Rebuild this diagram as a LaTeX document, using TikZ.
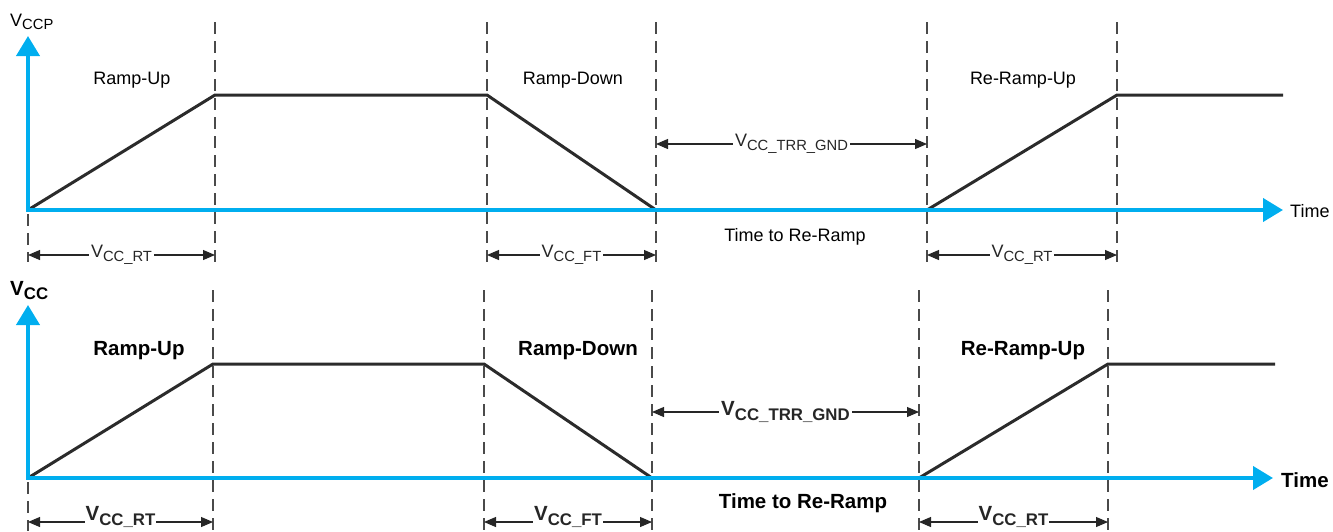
\documentclass[tikz,border=0pt]{standalone}
\usepackage{fontspec}
\setmainfont{Liberation Sans}
\usetikzlibrary{arrows.meta}
\definecolor{axisblue}{HTML}{00AEEF}
\definecolor{wavegray}{HTML}{2B2B2B}
\definecolor{guidegray}{HTML}{4A4A4A}
\newcommand{\lowtext}[1]{\raisebox{-0.4ex}{\scalebox{0.82}{#1}}}
\tikzset{
  axisline/.style={axisblue, line width=4pt, line cap=rect, -{Triangle[length=20pt,width=23pt]}},
  wave/.style={wavegray, line width=3pt, line join=miter},
  guide/.style={guidegray, line width=1.2pt, dash pattern=on 12pt off 7pt},
  dimarrow/.style={black!85, line width=1.1pt, {Triangle[length=12pt,width=10pt]}-{Triangle[length=12pt,width=10pt]}},
  plainlabel/.style={font=\fontsize{18}{21}\selectfont, inner sep=1pt},
  boldlabel/.style={font=\fontsize{20.5}{23}\selectfont\bfseries, inner sep=1pt},
  dimlabel/.style={fill=white, inner sep=2pt},
  edgelabel/.style={dimlabel, inner sep=1pt, yshift=5pt}
}

\begin{document}
\begin{tikzpicture}[x=1pt, y=-1pt]
  \useasboundingbox (0,0) rectangle (1333,531);

  % upper panel: V_CCP
  \foreach \x in {215,487,656,927,1117}
    \draw[guide] (\x,22) -- (\x,262);
  \draw[guide] (28,214) -- (28,262);

  \coordinate (o1) at (28,210);
  \coordinate (p1) at (215,95);
  \coordinate (p2) at (487,95);
  \coordinate (p3) at (656,210);
  \coordinate (p4) at (927,210);
  \coordinate (p5) at (1117,95);
  \coordinate (p6) at (1283,95);
  \coordinate (ytip1) at (28,36);
  \coordinate (xtip1) at (1283,210);

  \draw[wave] (o1) -- (p1) -- (p2) -- (p3) -- (p4) -- (p5) -- (p6);
  \draw[axisline] (o1) -- (ytip1);
  \draw[axisline] (o1) -- (xtip1);

  \node[plainlabel, anchor=base west] (vccp) at (9,26) {V\lowtext{CCP}};
  \node[plainlabel, anchor=west] (time1) at (1289,211) {Time};
  \node[plainlabel] (up1) at (132,80) {Ramp-Up};
  \node[plainlabel] (down1) at (573,80) {Ramp-Down};
  \node[plainlabel] (reup1) at (1023,80) {Re-Ramp-Up};
  \node[plainlabel] (rr1) at (795,237) {Time to Re-Ramp};

  \coordinate (g1a) at (656,144);
  \coordinate (g1b) at (927,144);
  \draw[dimarrow] (g1a) -- node[plainlabel, dimlabel] {V\lowtext{CC\_TRR\_GND}} (g1b);
  \coordinate (r1a) at (28,255);
  \coordinate (r1b) at (215,255);
  \draw[dimarrow] (r1a) -- node[plainlabel, dimlabel] {V\lowtext{CC\_RT}} (r1b);
  \coordinate (f1a) at (487,255);
  \coordinate (f1b) at (656,255);
  \draw[dimarrow] (f1a) -- node[plainlabel, dimlabel] {V\lowtext{CC\_FT}} (f1b);
  \coordinate (s1a) at (927,255);
  \coordinate (s1b) at (1117,255);
  \draw[dimarrow] (s1a) -- node[plainlabel, dimlabel] {V\lowtext{CC\_RT}} (s1b);

  % lower panel: V_CC
  \foreach \x in {213,484,652,919,1108}
    \draw[guide] (\x,290) -- (\x,531);
  \draw[guide] (28,482) -- (28,531);

  \coordinate (o2) at (28,478);
  \coordinate (q1) at (213,364);
  \coordinate (q2) at (484,364);
  \coordinate (q3) at (652,478);
  \coordinate (q4) at (919,478);
  \coordinate (q5) at (1108,364);
  \coordinate (q6) at (1275,364);
  \coordinate (ytip2) at (28,305);
  \coordinate (xtip2) at (1273,478);

  \draw[wave] (o2) -- (q1) -- (q2) -- (q3) -- (q4) -- (q5) -- (q6);
  \draw[axisline] (o2) -- (ytip2);
  \draw[axisline] (o2) -- (xtip2);

  \node[boldlabel, anchor=base west] (vcc) at (9,295) {V\lowtext{CC}};
  \node[boldlabel, anchor=west] (time2) at (1280,480) {Time};
  \node[boldlabel] (up2) at (139,351) {Ramp-Up};
  \node[boldlabel] (down2) at (578,351) {Ramp-Down};
  \node[boldlabel] (reup2) at (1023,351) {Re-Ramp-Up};
  \node[boldlabel] (rr2) at (803,503) {Time to Re-Ramp};

  \coordinate (g2a) at (652,412);
  \coordinate (g2b) at (919,412);
  \draw[dimarrow] (g2a) -- node[boldlabel, dimlabel] {V\lowtext{CC\_TRR\_GND}} (g2b);
  \coordinate (r2a) at (28,522);
  \coordinate (r2b) at (213,522);
  \draw[dimarrow] (r2a) -- node[boldlabel, edgelabel] {V\lowtext{CC\_RT}} (r2b);
  \coordinate (f2a) at (484,522);
  \coordinate (f2b) at (652,522);
  \draw[dimarrow] (f2a) -- node[boldlabel, edgelabel] {V\lowtext{CC\_FT}} (f2b);
  \coordinate (s2a) at (919,522);
  \coordinate (s2b) at (1108,522);
  \draw[dimarrow] (s2a) -- node[boldlabel, edgelabel] {V\lowtext{CC\_RT}} (s2b);
\end{tikzpicture}
\end{document}
